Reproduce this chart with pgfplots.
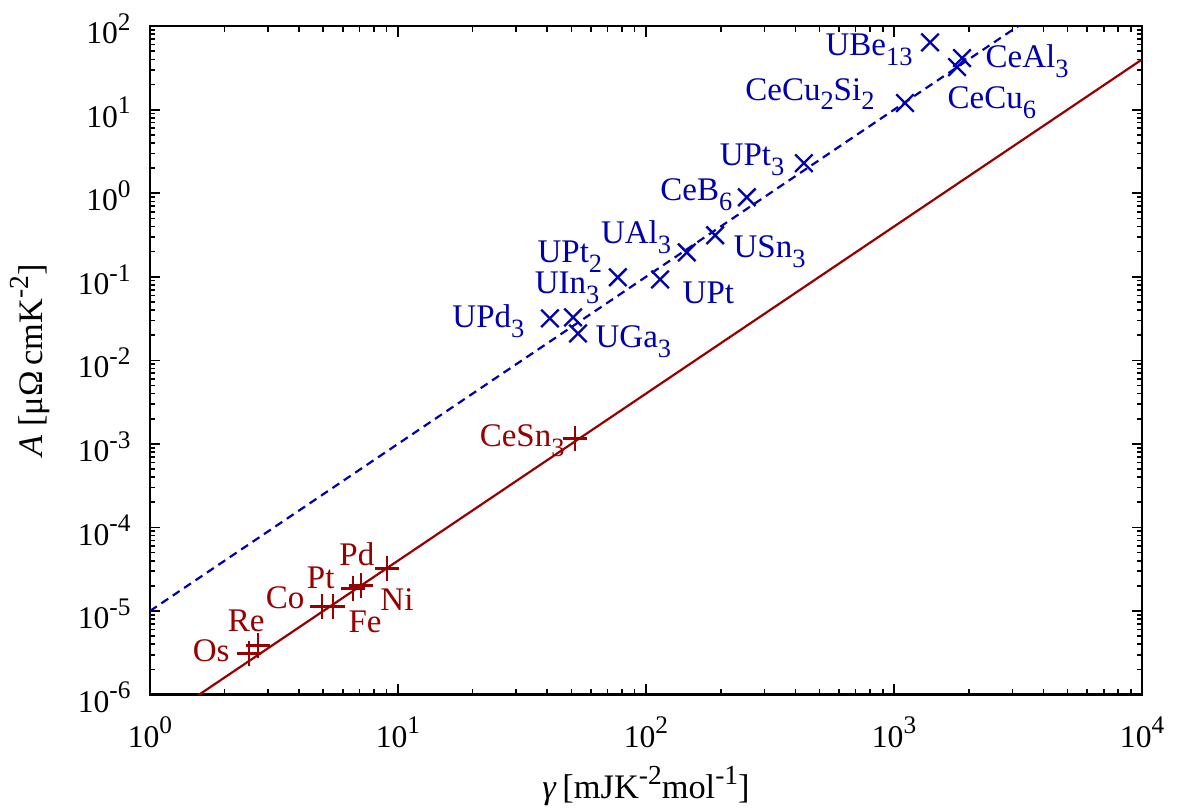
\documentclass[border=0pt]{standalone}
\usepackage{fontspec}
\setmainfont{Liberation Serif}
\usepackage{graphicx}
\usepackage{pgfplots}
\pgfplotsset{compat=1.18}
\definecolor{kwblue}{RGB}{0,0,172}
\definecolor{kwred}{RGB}{150,0,0}
% gnuplot-like sub/superscripts
\newcommand{\sub}[1]{\raisebox{-0.3em}{\scalebox{0.8}{#1}}}
\newcommand{\sups}[1]{\raisebox{0.42em}{\scalebox{0.8}{#1}}}
\newcommand{\tp}[1]{10\sups{#1}}
\tikzset{
  lb/.style={font=\fontsize{12}{14}\selectfont,inner sep=0pt},
}

\begin{document}
\begin{tikzpicture}
\path[use as bounding box] (-54.5pt,-42.2pt) rectangle (376.3pt,252.5pt);
\begin{axis}[
  scale only axis, width=360.7pt, height=243pt,
  xmode=log, ymode=log,
  xmin=1, xmax=1e4, ymin=1e-6, ymax=1e2,
  xtick={1,10,100,1000,10000},
  xticklabels={\tp{0},\tp{1},\tp{2},\tp{3},\tp{4}},
  ytick={1e-6,1e-5,1e-4,1e-3,1e-2,1e-1,1,10,100},
  yticklabels={\tp{-6},\tp{-5},\tp{-4},\tp{-3},\tp{-2},\tp{-1},\tp{0},\tp{1},\tp{2}},
  tick label style={font=\fontsize{11.5}{13}\selectfont},
  xticklabel style={yshift=-6pt,inner ysep=2pt},
  yticklabel style={xshift=-3.5pt,yshift=-1pt},
  axis line style={line width=0.8pt},
  major tick length=3.8pt, minor tick length=2pt,
  tick style={black,line width=0.6pt},
  every axis x label/.style={at={(axis description cs:0.5,-0.137)},anchor=center,
    inner sep=1pt,font=\fontsize{12.5}{14}\selectfont},
  every axis y label/.style={at={(axis description cs:-0.1209,0.5)},anchor=center,rotate=90,
    font=\fontsize{12.5}{14}\selectfont},
  xlabel={\textit{γ}\,[mJK\sups{-2}mol\sups{-1}]},
  ylabel={\textit{A} [μΩ\,cmK\sups{-2}]},
]
% A = 1e-5 gamma^2 (heavy fermions) and A = 0.4e-6 gamma^2 (transition metals)
\addplot[kwblue, dash pattern=on 3pt off 2pt, line width=0.8pt] coordinates {(1,1e-5) (1e4,1e3)};
\addplot[kwred, line width=0.8pt] coordinates {(1,4e-7) (1e4,40)};

\addplot[only marks, mark=x, kwblue, mark size=4.5pt, line width=0.85pt] coordinates {
  (1397,64) (1880,41.4) (1795,32.3) (1107,12.0) (433,2.29) (255,0.895)
  (190,0.314) (146,0.196) (114,0.093) (77,0.0986) (50.8,0.0327)
  (41,0.0318) (53.2,0.021)};
\addplot[only marks, mark=+, kwred, mark size=4.4pt, line width=0.8pt] coordinates {
  (51.7,0.00116) (9.03,3.23e-5) (7.09,2.02e-5) (6.58,1.86e-5)
  (5.47,1.13e-5) (4.94,1.13e-5) (2.73,3.86e-6) (2.51,3.10e-6)};

\begin{scope}[every node/.style={lb,text=kwblue}]
\node[anchor=base east,xshift=-6.2pt,yshift=-4.7pt] at (axis cs:1397,64) {UBe\sub{13}};
\node[anchor=base west,xshift=8.4pt,yshift=-3.3pt] at (axis cs:1880,41.4) {CeAl\sub{3}};
\node[anchor=base west,xshift=-3.6pt,yshift=-14.9pt] at (axis cs:1795,32.3) {CeCu\sub{6}};
\node[anchor=base east,xshift=-10.9pt,yshift=1.1pt] at (axis cs:1107,12.0) {CeCu\sub{2}Si\sub{2}};
\node[anchor=base east,xshift=-6.9pt,yshift=-0.7pt] at (axis cs:433,2.29) {UPt\sub{3}};
\node[anchor=base east,xshift=-5.1pt,yshift=-1.1pt] at (axis cs:255,0.895) {CeB\sub{6}};
\node[anchor=base west,xshift=6.5pt,yshift=-8pt] at (axis cs:190,0.314) {USn\sub{3}};
\node[anchor=base east,xshift=-5.5pt,yshift=3.3pt] at (axis cs:146,0.196) {UAl\sub{3}};
\node[anchor=base west,xshift=8pt,yshift=-8.7pt] at (axis cs:114,0.093) {UPt};
\node[anchor=base east,xshift=-5.5pt,yshift=5.5pt] at (axis cs:77,0.0986) {UPt\sub{2}};
\node[anchor=base east,xshift=9.8pt,yshift=8.7pt] at (axis cs:50.8,0.0327) {UIn\sub{3}};
\node[anchor=base east,xshift=-9.1pt,yshift=-3.3pt] at (axis cs:41,0.0318) {UPd\sub{3}};
\node[anchor=base west,xshift=6.2pt,yshift=-5.1pt] at (axis cs:53.2,0.021) {UGa\sub{3}};
\end{scope}
\begin{scope}[every node/.style={lb,text=kwred}]
\node[anchor=base east,xshift=-3.6pt,yshift=-2.9pt] at (axis cs:51.7,0.00116) {CeSn\sub{3}};
\node[anchor=base east,xshift=-4.4pt,yshift=1.1pt] at (axis cs:9.03,3.23e-5) {Pd};
\node[anchor=base east,xshift=-6.5pt,yshift=0pt] at (axis cs:6.58,1.86e-5) {Pt};
\node[anchor=base east,xshift=-6.2pt,yshift=-0.7pt] at (axis cs:4.94,1.13e-5) {Co};
\node[anchor=base west,xshift=6.9pt,yshift=-9.1pt] at (axis cs:7.09,2.02e-5) {Ni};
\node[anchor=base west,xshift=5.5pt,yshift=-9.5pt] at (axis cs:5.47,1.13e-5) {Fe};
\node[anchor=base east,xshift=2.5pt,yshift=5.1pt] at (axis cs:2.73,3.86e-6) {Re};
\node[anchor=base east,xshift=-6.9pt,yshift=-2.9pt] at (axis cs:2.51,3.10e-6) {Os};
\end{scope}
\end{axis}
\end{tikzpicture}
\end{document}
